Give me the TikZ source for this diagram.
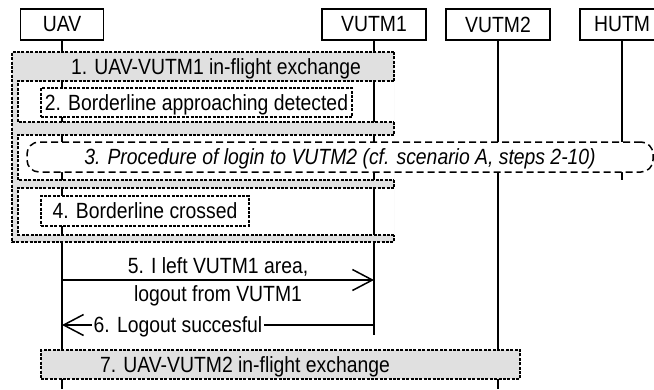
\documentclass[tikz,border=0pt]{standalone}
\usepackage{fontspec}
\setmainfont[FakeStretch=0.88]{Liberation Sans}
\usetikzlibrary{arrows.meta}
\definecolor{boxgray}{RGB}{224,224,224}
\begin{document}
\begin{tikzpicture}[x=1pt,y=-1pt,
  every node/.style={font=\fontsize{22}{26}\selectfont},
  txt/.style={text height=15.7pt, text depth=0pt, inner sep=0pt},
  actor/.style={draw, line width=1.4pt, fill=white, minimum height=31pt, inner sep=0pt},
  life/.style={line width=1.5pt},
  dots/.style={line width=1.5pt, dash pattern=on 3pt off 1.4pt},
  dotbox/.style={dots, draw, fill=white, inner sep=0pt, text height=15.7pt, text depth=0pt},
  procbox/.style={draw, line width=1.5pt, dash pattern=on 7pt off 4pt, rounded corners=12pt, fill=white, inner sep=0pt, text height=15.7pt, text depth=0pt},
  msg/.style={line width=1.5pt, -{Straight Barb[length=20pt,width=21pt]}},
]
\useasboundingbox (0,0) rectangle (654,389);

% actors
\node[actor, minimum width=83pt] (uav) at (62,24.5) {UAV};
\node[actor, minimum width=104pt] (vutm1) at (374,24.5) {VUTM1};
\node[actor, minimum width=104pt] (vutm2) at (498,24.5) {VUTM2};
\node[actor, minimum width=84pt] (hutm) at (622,24.5) {HUTM};

% lifeline ends
\coordinate (uavEnd) at (uav.south |- 0,389);
\coordinate (v1End) at (vutm1.south |- 0,335);
\coordinate (v2End) at (vutm2.south |- 0,389);
\coordinate (hEnd) at (hutm.south |- 0,180);
\draw[life] (uav.south) -- (uavEnd);
\draw[life] (vutm1.south) -- (v1End);
\draw[life] (vutm2.south) -- (v2End);
\draw[life] (hutm.south) -- (hEnd);

% frame 1: gray parts
\fill[boxgray, even odd rule] (12,52) rectangle (394,242)
  (18,81) rectangle (394,122)
  (18,135) rectangle (394,180)
  (18,188) rectangle (394,235);
% frame 1 borders
\draw[dots] (394,52) -- (12,52) -- (12,242) -- (394,242) -- (394,235);
\draw[dots] (394,52) -- (394,81);
\draw[dots] (394,122) -- (394,135);
\draw[dots] (394,180) -- (394,188);
\draw[dots] (394,81) -- (18,81) -- (18,122) -- (394,122);
\draw[dots] (394,135) -- (18,135) -- (18,180) -- (394,180);
\draw[dots] (394,188) -- (18,188) -- (18,235) -- (394,235);
\node[txt] (t1) at (216,67) {1. UAV-VUTM1 in-flight exchange};

% inner boxes
\node[dotbox, minimum width=311pt, minimum height=29pt] (b2) at (196.5,102.5) {2. Borderline approaching detected};
\node[procbox, minimum width=626pt, minimum height=30pt] (b3) at (340,157) {\itshape 3. Procedure of login to VUTM2 (cf. scenario A, steps 2-10)};
\node[dotbox, minimum width=208pt, minimum height=30pt] (b4) at (145,211) {4. Borderline crossed};

% messages
\coordinate (m5a) at (uav.south |- 0,280);
\coordinate (m5b) at (vutm1.south |- 0,280);
\draw[msg] (m5a) -- (m5b);
\node[anchor=base, inner sep=0pt] (l5a) at (218,273) {5. I left VUTM1 area,};
\node[anchor=base, inner sep=0pt] (l5b) at (218,301) {logout from VUTM1};

\coordinate (m6a) at (vutm1.south |- 0,325);
\coordinate (m6b) at (uav.south |- 0,325);
\draw[msg] (m6a) -- (m6b);
\node[txt, fill=white, inner xsep=1.5pt] (l6) at (178,325) {6. Logout succesful};

% box 7
\node[dots, draw, fill=boxgray, minimum width=479pt, minimum height=29pt, inner sep=0pt] (b7) at (280.5,364.5) {};
\node[txt] (t7) at (245,364.5) {7. UAV-VUTM2 in-flight exchange};
\end{tikzpicture}
\end{document}
